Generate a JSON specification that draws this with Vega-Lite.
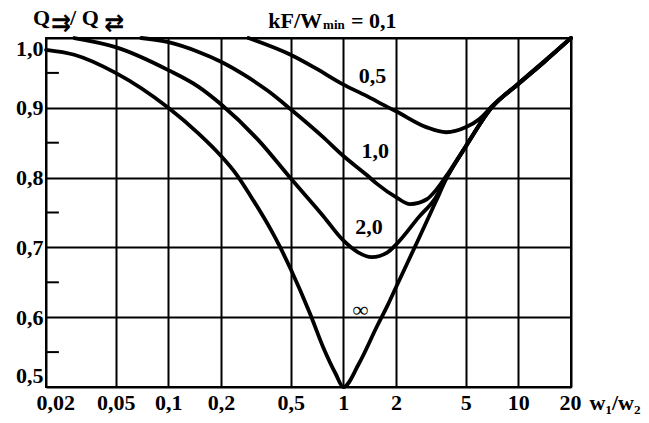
{
  "$schema": "https://vega.github.io/schema/vega-lite/v6.json",
  "width": 525,
  "height": 349,
  "autosize": {"type": "none"},
  "padding": {"left": 46, "top": 38, "right": 78, "bottom": 36},
  "background": "white",
  "config": {
    "view": {"stroke": "black", "strokeWidth": 2},
    "font": "Liberation Serif"
  },
  "datasets": {
    "curves": [
      {"curve": "∞", "x": 0.02, "y": 0.983},
      {"curve": "∞", "x": 0.029, "y": 0.976},
      {"curve": "∞", "x": 0.05, "y": 0.95},
      {"curve": "∞", "x": 0.1, "y": 0.9},
      {"curve": "∞", "x": 0.149, "y": 0.863},
      {"curve": "∞", "x": 0.2, "y": 0.831},
      {"curve": "∞", "x": 0.246, "y": 0.804},
      {"curve": "∞", "x": 0.298, "y": 0.772},
      {"curve": "∞", "x": 0.386, "y": 0.725},
      {"curve": "∞", "x": 0.434, "y": 0.701},
      {"curve": "∞", "x": 0.5, "y": 0.669},
      {"curve": "∞", "x": 0.643, "y": 0.606},
      {"curve": "∞", "x": 0.767, "y": 0.557},
      {"curve": "∞", "x": 0.904, "y": 0.519},
      {"curve": "∞", "x": 1.0, "y": 0.5},
      {"curve": "∞", "x": 1.231, "y": 0.534},
      {"curve": "∞", "x": 1.558, "y": 0.587},
      {"curve": "∞", "x": 1.79, "y": 0.617},
      {"curve": "∞", "x": 2.0, "y": 0.643},
      {"curve": "∞", "x": 2.692, "y": 0.712},
      {"curve": "∞", "x": 3.382, "y": 0.766},
      {"curve": "∞", "x": 3.87, "y": 0.798},
      {"curve": "∞", "x": 5.0, "y": 0.844},
      {"curve": "∞", "x": 7.02, "y": 0.9},
      {"curve": "∞", "x": 10, "y": 0.934},
      {"curve": "∞", "x": 14.1, "y": 0.966},
      {"curve": "∞", "x": 20, "y": 1.0},

      {"curve": "2,0", "x": 0.029, "y": 1.0},
      {"curve": "2,0", "x": 0.05, "y": 0.987},
      {"curve": "2,0", "x": 0.1, "y": 0.954},
      {"curve": "2,0", "x": 0.149, "y": 0.93},
      {"curve": "2,0", "x": 0.2, "y": 0.905},
      {"curve": "2,0", "x": 0.326, "y": 0.854},
      {"curve": "2,0", "x": 0.5, "y": 0.799},
      {"curve": "2,0", "x": 0.767, "y": 0.745},
      {"curve": "2,0", "x": 0.99, "y": 0.711},
      {"curve": "2,0", "x": 1.214, "y": 0.693},
      {"curve": "2,0", "x": 1.454, "y": 0.686},
      {"curve": "2,0", "x": 1.79, "y": 0.693},
      {"curve": "2,0", "x": 2.0, "y": 0.704},
      {"curve": "2,0", "x": 2.692, "y": 0.743},
      {"curve": "2,0", "x": 3.382, "y": 0.772},
      {"curve": "2,0", "x": 3.87, "y": 0.799},
      {"curve": "2,0", "x": 5.0, "y": 0.844},
      {"curve": "2,0", "x": 7.02, "y": 0.9},
      {"curve": "2,0", "x": 10, "y": 0.934},
      {"curve": "2,0", "x": 14.1, "y": 0.966},
      {"curve": "2,0", "x": 20, "y": 1.0},

      {"curve": "1,0", "x": 0.07, "y": 1.0},
      {"curve": "1,0", "x": 0.1, "y": 0.994},
      {"curve": "1,0", "x": 0.149, "y": 0.98},
      {"curve": "1,0", "x": 0.2, "y": 0.966},
      {"curve": "1,0", "x": 0.276, "y": 0.946},
      {"curve": "1,0", "x": 0.372, "y": 0.924},
      {"curve": "1,0", "x": 0.5, "y": 0.898},
      {"curve": "1,0", "x": 0.767, "y": 0.858},
      {"curve": "1,0", "x": 0.99, "y": 0.832},
      {"curve": "1,0", "x": 1.357, "y": 0.804},
      {"curve": "1,0", "x": 1.558, "y": 0.791},
      {"curve": "1,0", "x": 2.0, "y": 0.772},
      {"curve": "1,0", "x": 2.41, "y": 0.762},
      {"curve": "1,0", "x": 3.0, "y": 0.769},
      {"curve": "1,0", "x": 3.382, "y": 0.782},
      {"curve": "1,0", "x": 3.87, "y": 0.802},
      {"curve": "1,0", "x": 5.0, "y": 0.845},
      {"curve": "1,0", "x": 7.02, "y": 0.9},
      {"curve": "1,0", "x": 10, "y": 0.934},
      {"curve": "1,0", "x": 14.1, "y": 0.966},
      {"curve": "1,0", "x": 20, "y": 1.0},

      {"curve": "0,5", "x": 0.287, "y": 1.0},
      {"curve": "0,5", "x": 0.5, "y": 0.976},
      {"curve": "0,5", "x": 0.702, "y": 0.956},
      {"curve": "0,5", "x": 0.99, "y": 0.934},
      {"curve": "0,5", "x": 1.357, "y": 0.917},
      {"curve": "0,5", "x": 1.79, "y": 0.901},
      {"curve": "0,5", "x": 2.0, "y": 0.895},
      {"curve": "0,5", "x": 3.0, "y": 0.872},
      {"curve": "0,5", "x": 3.87, "y": 0.865},
      {"curve": "0,5", "x": 5.0, "y": 0.872},
      {"curve": "0,5", "x": 6.0, "y": 0.884},
      {"curve": "0,5", "x": 7.12, "y": 0.903},
      {"curve": "0,5", "x": 10, "y": 0.935},
      {"curve": "0,5", "x": 14.1, "y": 0.967},
      {"curve": "0,5", "x": 20, "y": 1.0}
    ],
    "minorTicks": [
      {"q": 0.55}, {"q": 0.65}, {"q": 0.75}, {"q": 0.85}, {"q": 0.95}
    ],
    "curveLabels": [
      {"label": "0,5", "x": 1.47, "y": 0.946},
      {"label": "1,0", "x": 1.52, "y": 0.838},
      {"label": "2,0", "x": 1.4, "y": 0.729},
      {"label": "∞", "x": 1.25, "y": 0.61}
    ],
    "headerRight": [
      {"label": "kF/W", "x": 0.7555, "y": 1.0150}
    ],
    "headerLeft": [
      {"label": "= 0,1", "x": 1.107, "y": 1.0150},
      {"label": "Q", "x": 0.01686, "y": 1.0186},
      {"label": "/", "x": 0.02742, "y": 1.0186},
      {"label": "Q", "x": 0.03200, "y": 1.0186}
    ],
    "headerSub": [
      {"label": "min", "x": 0.766, "y": 1.0125}
    ],
    "arrows": [
      {"label": "⇉", "x": 0.02136, "y": 1.0195},
      {"label": "⇄", "x": 0.04300, "y": 1.0195}
    ]
  },
  "layer": [
    {
      "data": {"name": "curves"},
      "mark": {"type": "line", "interpolate": "monotone", "stroke": "black", "strokeWidth": 3.8, "strokeCap": "round", "strokeJoin": "round"},
      "encoding": {
        "x": {
          "field": "x", "type": "quantitative",
          "scale": {"type": "log", "domain": [0.02, 20], "nice": false},
          "title": "w₁/w₂",
          "axis": {
            "values": [0.02, 0.05, 0.1, 0.2, 0.5, 1, 2, 5, 10, 20],
            "format": "~g",
            "labelExpr": "replace(datum.label, '.', ',')",
            "grid": true, "gridColor": "black", "gridWidth": 2, "gridOpacity": 1,
            "ticks": false, "domain": false,
            "labelFont": "Liberation Serif", "labelFontSize": 22, "labelFontWeight": "bold", "labelColor": "black",
            "labelPadding": 5, "labelFlush": true, "labelFlushOffset": 10, "labelOverlap": false,
            "titleFont": "Liberation Serif", "titleFontSize": 22, "titleFontWeight": "bold", "titleColor": "black",
            "titleX": 543, "titleY": 22, "titleAlign": "left", "titleBaseline": "alphabetic", "titleAngle": 0
          }
        },
        "y": {
          "field": "y", "type": "quantitative",
          "scale": {"domain": [0.5, 1.0], "nice": false, "zero": false},
          "title": null,
          "axis": {
            "values": [0.5, 0.6, 0.7, 0.8, 0.9, 1.0],
            "format": ".1f",
            "labelExpr": "replace(datum.label, '.', ',')",
            "grid": true, "gridColor": "black", "gridWidth": 2, "gridOpacity": 1,
            "ticks": false, "domain": false,
            "labelFont": "Liberation Serif", "labelFontSize": 22, "labelFontWeight": "bold", "labelColor": "black",
            "labelPadding": 3, "labelFlush": true, "labelOverlap": false
          }
        },
        "detail": {"field": "curve", "type": "nominal"}
      }
    },
    {
      "data": {"name": "minorTicks"},
      "mark": {"type": "rule", "stroke": "black", "strokeWidth": 2},
      "encoding": {
        "y": {"field": "q", "type": "quantitative"},
        "x": {"datum": 0.02, "type": "quantitative"},
        "x2": {"datum": 0.0237}
      }
    },
    {
      "data": {"name": "curveLabels"},
      "mark": {"type": "text", "font": "Liberation Serif", "fontSize": 22, "fontWeight": "bold", "color": "black", "align": "center", "baseline": "middle"},
      "encoding": {
        "x": {"field": "x", "type": "quantitative"},
        "y": {"field": "y", "type": "quantitative"},
        "text": {"field": "label"}
      }
    },
    {
      "data": {"name": "headerRight"},
      "mark": {"type": "text", "font": "Liberation Serif", "fontSize": 22, "fontWeight": "bold", "color": "black", "align": "right", "baseline": "alphabetic"},
      "encoding": {
        "x": {"field": "x", "type": "quantitative"},
        "y": {"field": "y", "type": "quantitative"},
        "text": {"field": "label"}
      }
    },
    {
      "data": {"name": "headerLeft"},
      "mark": {"type": "text", "font": "Liberation Serif", "fontSize": 22, "fontWeight": "bold", "color": "black", "align": "left", "baseline": "alphabetic"},
      "encoding": {
        "x": {"field": "x", "type": "quantitative"},
        "y": {"field": "y", "type": "quantitative"},
        "text": {"field": "label"}
      }
    },
    {
      "data": {"name": "headerSub"},
      "mark": {"type": "text", "font": "Liberation Serif", "fontSize": 13, "fontWeight": "bold", "color": "black", "align": "left", "baseline": "alphabetic"},
      "encoding": {
        "x": {"field": "x", "type": "quantitative"},
        "y": {"field": "y", "type": "quantitative"},
        "text": {"field": "label"}
      }
    },
    {
      "data": {"name": "arrows"},
      "mark": {"type": "text", "font": "DejaVu Sans", "fontSize": 24, "fontWeight": "bold", "color": "black", "align": "left", "baseline": "middle"},
      "encoding": {
        "x": {"field": "x", "type": "quantitative"},
        "y": {"field": "y", "type": "quantitative"},
        "text": {"field": "label"}
      }
    }
  ]
}
